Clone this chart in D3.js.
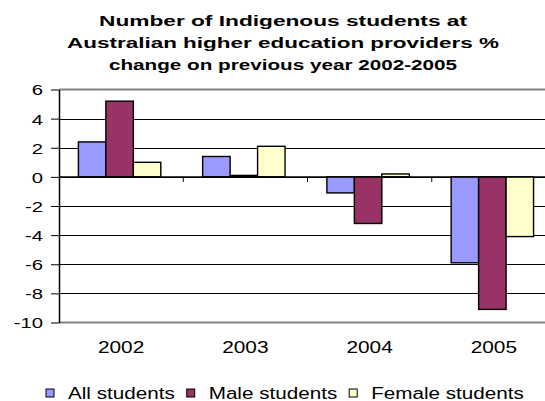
<!DOCTYPE html>
<html><head><meta charset="utf-8">
<script src="https://cdn.jsdelivr.net/npm/d3@7"></script>
<style>
body{margin:0;background:#fff}
svg{display:block}
text{font-family:"Liberation Sans",Arial,sans-serif;fill:#000}
</style>
</head><body>
<svg id="c" width="545" height="401"></svg>
<script>
const categories = ["2002", "2003", "2004", "2005"];
const seriesNames = ["All students", "Male students", "Female students"];
const allStudents = [2.4, 1.4, -1.1, -5.9];
const maleStudents = [5.2, 0.1, -3.2, -9.1];
const femaleStudents = [1.0, 2.1, 0.2, -4.1];
const yTicks = [-10, -8, -6, -4, -2, 0, 2, 4, 6];
const titleLines = ["Number of Indigenous students at", "Australian higher education providers %", "change on previous year 2002-2005"];
const colors = ["#9999FF", "#993366", "#FFFFCC"];

(function () {
const series = [allStudents, maleStudents, femaleStudents];
const svg = d3.select("#c");
svg.append("rect").attr("width", 545).attr("height", 401).attr("fill", "#fff");

const SX = 1.3;
function stretch(sel, factor) {
  sel.each(function () {
    const w = this.getComputedTextLength();
    d3.select(this).attr("textLength", w * factor).attr("lengthAdjust", "spacingAndGlyphs");
  });
}

const pLeft = 59, pRight = 556, pTop = 89.5, pBottom = 322.5;
const x = d3.scaleBand().domain(categories).range([pLeft, pRight]).padding(0);
const xs = d3.scaleBand().domain(seriesNames).range([0, 82.4]);
const groupOffset = 19.4;
const y = d3.scaleLinear().domain([-10, 6]).range([pBottom, pTop]);

svg.append("g").selectAll("line").data(yTicks.filter(t => t > -10 && t < 6)).join("line")
  .attr("x1", pLeft).attr("x2", pRight)
  .attr("y1", d => Math.round(y(d)) + 0.5).attr("y2", d => Math.round(y(d)) + 0.5)
  .attr("stroke", "#000").attr("stroke-width", 1);
[6, -10].forEach(v => {
  svg.append("line").attr("x1", pLeft).attr("x2", pRight)
    .attr("y1", y(v)).attr("y2", y(v)).attr("stroke", "#808080").attr("stroke-width", 2);
});

const g = svg.append("g");
categories.forEach((c, i) => {
  series.forEach((s, j) => {
    const v = s[i];
    const x0 = x(c) + groupOffset + xs(seriesNames[j]);
    g.append("rect")
      .attr("x", x0).attr("width", xs.bandwidth())
      .attr("y", y(Math.max(0, v))).attr("height", Math.abs(y(v) - y(0)))
      .attr("fill", colors[j]).attr("stroke", "#000").attr("stroke-width", 1.4);
  });
});

const ya = svg.append("g").attr("transform", `translate(${pLeft},0)`)
  .call(d3.axisLeft(y).tickValues(yTicks).tickSizeInner(8).tickSizeOuter(0).tickPadding(8).tickFormat(d => String(d)));
ya.select(".domain").attr("stroke", "#000").attr("stroke-width", 1.5);
ya.selectAll(".tick line").attr("stroke", "#000");
ya.selectAll("text").attr("font-size", 15).attr("fill", "#000").attr("font-family", '"Liberation Sans",Arial,sans-serif')
  .attr("x", -16).attr("dy", "0.36em");
stretch(ya.selectAll("text"), 1.35);

const xa = svg.append("g").attr("transform", `translate(0,${y(0)})`);
xa.append("line").attr("x1", pLeft).attr("x2", pRight).attr("stroke", "#000").attr("stroke-width", 1.2);
xa.selectAll(".tk").data(categories.slice(1)).join("line").attr("class", "tk")
  .attr("x1", d => x(d)).attr("x2", d => x(d)).attr("y1", 0).attr("y2", 5)
  .attr("stroke", "#000").attr("stroke-width", 1);

const cl = svg.append("g").selectAll("text").data(categories).join("text")
  .attr("x", d => x(d) + x.bandwidth() / 2).attr("y", 353)
  .attr("text-anchor", "middle").attr("font-size", 16).text(d => d);
stretch(cl, SX);

const titleWidths = [368, 432, 348];
const titleY = [25.7, 47.7, 70.3];
svg.append("g").selectAll("text").data(titleLines).join("text")
  .attr("x", 283).attr("y", (d, i) => titleY[i]).attr("text-anchor", "middle")
  .attr("font-size", 14).attr("font-weight", "bold")
  .attr("textLength", (d, i) => titleWidths[i]).attr("lengthAdjust", "spacingAndGlyphs")
  .text(d => d);

let cx = 46;
const lg = svg.append("g");
seriesNames.forEach((n, j) => {
  lg.append("rect").attr("x", cx).attr("y", 389).attr("width", 8).attr("height", 8)
    .attr("fill", colors[j]).attr("stroke", "#000").attr("stroke-width", 1);
  const t = lg.append("text").attr("x", cx + 22).attr("y", 398.5).attr("font-size", 16).text(n);
  const w = t.node().getComputedTextLength() * 1.29;
  t.attr("textLength", w).attr("lengthAdjust", "spacingAndGlyphs");
  cx = cx + 22 + w + 12;
});
})();
</script>
</body></html>
